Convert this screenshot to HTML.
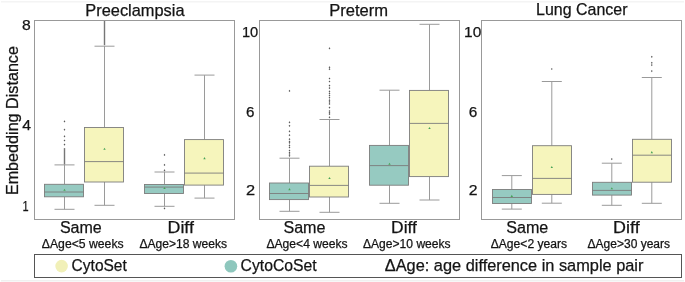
<!DOCTYPE html><html><head><meta charset="utf-8"><style>html,body{margin:0;padding:0;background:#fff;}body{width:685px;height:282px;overflow:hidden;}svg{display:block;will-change:transform;}text{font-family:"Liberation Sans",sans-serif;fill:#141414;}</style></head><body>
<svg width="685" height="282" viewBox="0 0 685 282">
<rect x="0" y="0" width="685" height="282" fill="#fff"/>
<rect x="1" y="1" width="683" height="1.5" fill="#f4f4f4"/>
<rect x="1" y="280" width="683" height="1.5" fill="#f0f0f0"/>
<line x1="64.5" y1="164.9" x2="64.5" y2="184.3" stroke="#9a9a9a" stroke-width="1"/>
<line x1="64.5" y1="196.8" x2="64.5" y2="209.3" stroke="#9a9a9a" stroke-width="1"/>
<line x1="54.5" y1="164.9" x2="74.5" y2="164.9" stroke="#9a9a9a" stroke-width="1"/>
<line x1="54.5" y1="209.3" x2="74.5" y2="209.3" stroke="#9a9a9a" stroke-width="1"/>
<rect x="44.5" y="184.3" width="39" height="12.5" fill="#96cac1" stroke="#7c7c7c" stroke-width="0.9"/>
<line x1="44.5" y1="192" x2="83.5" y2="192" stroke="#7c7c7c" stroke-width="0.9"/>
<path d="M63.3 190.8L64.5 188.7L65.7 190.8Z" fill="#46a356"/>
<rect x="63.8" y="148.1" width="1.4" height="16.4" fill="#767676"/>
<path d="M64.5 120.3L65.35 121.4L64.5 122.5L63.65 121.4Z" fill="#5a5a5a"/>
<path d="M64.5 128.6L65.35 129.7L64.5 130.8L63.65 129.7Z" fill="#5a5a5a"/>
<path d="M64.5 135.2L65.35 136.3L64.5 137.4L63.65 136.3Z" fill="#5a5a5a"/>
<path d="M64.5 139.4L65.35 140.5L64.5 141.6L63.65 140.5Z" fill="#5a5a5a"/>
<path d="M64.5 143.5L65.35 144.6L64.5 145.7L63.65 144.6Z" fill="#5a5a5a"/>
<line x1="104.5" y1="46.2" x2="104.5" y2="127.5" stroke="#9a9a9a" stroke-width="1"/>
<line x1="104.5" y1="182" x2="104.5" y2="205.3" stroke="#9a9a9a" stroke-width="1"/>
<line x1="94.5" y1="46.2" x2="114.5" y2="46.2" stroke="#9a9a9a" stroke-width="1"/>
<line x1="94.5" y1="205.3" x2="114.5" y2="205.3" stroke="#9a9a9a" stroke-width="1"/>
<rect x="84.5" y="127.5" width="39" height="54.5" fill="#f6f5bc" stroke="#7c7c7c" stroke-width="0.9"/>
<line x1="84.5" y1="161.6" x2="123.5" y2="161.6" stroke="#7c7c7c" stroke-width="0.9"/>
<path d="M103.3 149.8L104.5 147.7L105.7 149.8Z" fill="#46a356"/>
<rect x="103.8" y="21" width="1.4" height="24.2" fill="#767676"/>
<line x1="164.5" y1="172" x2="164.5" y2="184.5" stroke="#9a9a9a" stroke-width="1"/>
<line x1="164.5" y1="193.5" x2="164.5" y2="206.3" stroke="#9a9a9a" stroke-width="1"/>
<line x1="154.5" y1="172" x2="174.5" y2="172" stroke="#9a9a9a" stroke-width="1"/>
<line x1="154.5" y1="206.3" x2="174.5" y2="206.3" stroke="#9a9a9a" stroke-width="1"/>
<rect x="144.5" y="184.5" width="39" height="9" fill="#96cac1" stroke="#7c7c7c" stroke-width="0.9"/>
<line x1="144.5" y1="187.1" x2="183.5" y2="187.1" stroke="#7c7c7c" stroke-width="0.9"/>
<path d="M163.3 189.1L164.5 187L165.7 189.1Z" fill="#46a356"/>
<path d="M164.5 153.8L165.35 154.9L164.5 156L163.65 154.9Z" fill="#5a5a5a"/>
<path d="M164.5 163.8L165.35 164.9L164.5 166L163.65 164.9Z" fill="#5a5a5a"/>
<path d="M164.5 169.2L165.35 170.3L164.5 171.4L163.65 170.3Z" fill="#5a5a5a"/>
<path d="M164.5 207.3L165.35 208.4L164.5 209.5L163.65 208.4Z" fill="#5a5a5a"/>
<line x1="204.5" y1="75.1" x2="204.5" y2="139.6" stroke="#9a9a9a" stroke-width="1"/>
<line x1="204.5" y1="185.1" x2="204.5" y2="198.1" stroke="#9a9a9a" stroke-width="1"/>
<line x1="194.5" y1="75.1" x2="214.5" y2="75.1" stroke="#9a9a9a" stroke-width="1"/>
<line x1="194.5" y1="198.1" x2="214.5" y2="198.1" stroke="#9a9a9a" stroke-width="1"/>
<rect x="184.5" y="139.6" width="39" height="45.5" fill="#f6f5bc" stroke="#7c7c7c" stroke-width="0.9"/>
<line x1="184.5" y1="173.1" x2="223.5" y2="173.1" stroke="#7c7c7c" stroke-width="0.9"/>
<path d="M203.3 159.2L204.5 157.1L205.7 159.2Z" fill="#46a356"/>
<rect x="34.5" y="20.5" width="200" height="199" fill="none" stroke="#999" stroke-width="1"/>
<line x1="289.5" y1="158.2" x2="289.5" y2="183" stroke="#9a9a9a" stroke-width="1"/>
<line x1="289.5" y1="199.6" x2="289.5" y2="211.3" stroke="#9a9a9a" stroke-width="1"/>
<line x1="279.5" y1="158.2" x2="299.5" y2="158.2" stroke="#9a9a9a" stroke-width="1"/>
<line x1="279.5" y1="211.3" x2="299.5" y2="211.3" stroke="#9a9a9a" stroke-width="1"/>
<rect x="269.5" y="183" width="39" height="16.6" fill="#96cac1" stroke="#7c7c7c" stroke-width="0.9"/>
<line x1="269.5" y1="193.5" x2="308.5" y2="193.5" stroke="#7c7c7c" stroke-width="0.9"/>
<path d="M288.3 190.2L289.5 188.1L290.7 190.2Z" fill="#46a356"/>
<path d="M289.5 89.8L290.35 90.9L289.5 92L288.65 90.9Z" fill="#5a5a5a"/>
<path d="M289.5 121.2L290.35 122.3L289.5 123.4L288.65 122.3Z" fill="#5a5a5a"/>
<path d="M289.5 124.7L290.35 125.8L289.5 126.9L288.65 125.8Z" fill="#5a5a5a"/>
<path d="M289.5 130.2L290.35 131.3L289.5 132.4L288.65 131.3Z" fill="#5a5a5a"/>
<path d="M289.5 134.1L290.35 135.2L289.5 136.3L288.65 135.2Z" fill="#5a5a5a"/>
<path d="M289.5 138.1L290.35 139.2L289.5 140.3L288.65 139.2Z" fill="#5a5a5a"/>
<path d="M289.5 140.4L290.35 141.5L289.5 142.6L288.65 141.5Z" fill="#5a5a5a"/>
<path d="M289.5 141.7L290.35 142.8L289.5 143.9L288.65 142.8Z" fill="#5a5a5a"/>
<path d="M289.5 144.3L290.35 145.4L289.5 146.5L288.65 145.4Z" fill="#5a5a5a"/>
<path d="M289.5 146.3L290.35 147.4L289.5 148.5L288.65 147.4Z" fill="#5a5a5a"/>
<path d="M289.5 149.4L290.35 150.5L289.5 151.6L288.65 150.5Z" fill="#5a5a5a"/>
<path d="M289.5 151.4L290.35 152.5L289.5 153.6L288.65 152.5Z" fill="#5a5a5a"/>
<path d="M289.5 152.9L290.35 154L289.5 155.1L288.65 154Z" fill="#5a5a5a"/>
<path d="M289.5 154.7L290.35 155.8L289.5 156.9L288.65 155.8Z" fill="#5a5a5a"/>
<line x1="329.5" y1="119.5" x2="329.5" y2="166.2" stroke="#9a9a9a" stroke-width="1"/>
<line x1="329.5" y1="197" x2="329.5" y2="212.3" stroke="#9a9a9a" stroke-width="1"/>
<line x1="319.5" y1="119.5" x2="339.5" y2="119.5" stroke="#9a9a9a" stroke-width="1"/>
<line x1="319.5" y1="212.3" x2="339.5" y2="212.3" stroke="#9a9a9a" stroke-width="1"/>
<rect x="309.5" y="166.2" width="39" height="30.8" fill="#f6f5bc" stroke="#7c7c7c" stroke-width="0.9"/>
<line x1="309.5" y1="185.4" x2="348.5" y2="185.4" stroke="#7c7c7c" stroke-width="0.9"/>
<path d="M328.3 179L329.5 176.9L330.7 179Z" fill="#46a356"/>
<path d="M329.5 47.2L330.35 48.3L329.5 49.4L328.65 48.3Z" fill="#5a5a5a"/>
<path d="M329.5 66.2L330.35 67.3L329.5 68.4L328.65 67.3Z" fill="#5a5a5a"/>
<path d="M329.5 68.1L330.35 69.2L329.5 70.3L328.65 69.2Z" fill="#5a5a5a"/>
<path d="M329.5 77.4L330.35 78.5L329.5 79.6L328.65 78.5Z" fill="#5a5a5a"/>
<path d="M329.5 80.4L330.35 81.5L329.5 82.6L328.65 81.5Z" fill="#5a5a5a"/>
<path d="M329.5 84.5L330.35 85.6L329.5 86.7L328.65 85.6Z" fill="#5a5a5a"/>
<path d="M329.5 87L330.35 88.1L329.5 89.2L328.65 88.1Z" fill="#5a5a5a"/>
<path d="M329.5 90.3L330.35 91.4L329.5 92.5L328.65 91.4Z" fill="#5a5a5a"/>
<path d="M329.5 92.3L330.35 93.4L329.5 94.5L328.65 93.4Z" fill="#5a5a5a"/>
<path d="M329.5 94.4L330.35 95.5L329.5 96.6L328.65 95.5Z" fill="#5a5a5a"/>
<path d="M329.5 96.6L330.35 97.7L329.5 98.8L328.65 97.7Z" fill="#5a5a5a"/>
<path d="M329.5 99.1L330.35 100.2L329.5 101.3L328.65 100.2Z" fill="#5a5a5a"/>
<path d="M329.5 100.8L330.35 101.9L329.5 103L328.65 101.9Z" fill="#5a5a5a"/>
<path d="M329.5 102.8L330.35 103.9L329.5 105L328.65 103.9Z" fill="#5a5a5a"/>
<path d="M329.5 106.5L330.35 107.6L329.5 108.7L328.65 107.6Z" fill="#5a5a5a"/>
<path d="M329.5 109.9L330.35 111L329.5 112.1L328.65 111Z" fill="#5a5a5a"/>
<path d="M329.5 111.6L330.35 112.7L329.5 113.8L328.65 112.7Z" fill="#5a5a5a"/>
<path d="M329.5 113L330.35 114.1L329.5 115.2L328.65 114.1Z" fill="#5a5a5a"/>
<path d="M329.5 116.2L330.35 117.3L329.5 118.4L328.65 117.3Z" fill="#5a5a5a"/>
<line x1="389.5" y1="90.2" x2="389.5" y2="145.4" stroke="#9a9a9a" stroke-width="1"/>
<line x1="389.5" y1="185.2" x2="389.5" y2="203.3" stroke="#9a9a9a" stroke-width="1"/>
<line x1="379.5" y1="90.2" x2="399.5" y2="90.2" stroke="#9a9a9a" stroke-width="1"/>
<line x1="379.5" y1="203.3" x2="399.5" y2="203.3" stroke="#9a9a9a" stroke-width="1"/>
<rect x="369.5" y="145.4" width="39" height="39.8" fill="#96cac1" stroke="#7c7c7c" stroke-width="0.9"/>
<line x1="369.5" y1="165.6" x2="408.5" y2="165.6" stroke="#7c7c7c" stroke-width="0.9"/>
<path d="M388.3 164.8L389.5 162.7L390.7 164.8Z" fill="#46a356"/>
<line x1="429.5" y1="24.3" x2="429.5" y2="90.4" stroke="#9a9a9a" stroke-width="1"/>
<line x1="429.5" y1="176.6" x2="429.5" y2="200" stroke="#9a9a9a" stroke-width="1"/>
<line x1="419.5" y1="24.3" x2="439.5" y2="24.3" stroke="#9a9a9a" stroke-width="1"/>
<line x1="419.5" y1="200" x2="439.5" y2="200" stroke="#9a9a9a" stroke-width="1"/>
<rect x="409.5" y="90.4" width="39" height="86.2" fill="#f6f5bc" stroke="#7c7c7c" stroke-width="0.9"/>
<line x1="409.5" y1="123.4" x2="448.5" y2="123.4" stroke="#7c7c7c" stroke-width="0.9"/>
<path d="M428.3 129.1L429.5 127L430.7 129.1Z" fill="#46a356"/>
<rect x="259.5" y="20.5" width="200" height="199" fill="none" stroke="#999" stroke-width="1"/>
<line x1="511.8" y1="175.6" x2="511.8" y2="189.5" stroke="#9a9a9a" stroke-width="1"/>
<line x1="511.8" y1="203.5" x2="511.8" y2="209.1" stroke="#9a9a9a" stroke-width="1"/>
<line x1="501.8" y1="175.6" x2="521.8" y2="175.6" stroke="#9a9a9a" stroke-width="1"/>
<line x1="501.8" y1="209.1" x2="521.8" y2="209.1" stroke="#9a9a9a" stroke-width="1"/>
<rect x="492.5" y="189.5" width="39" height="14" fill="#96cac1" stroke="#7c7c7c" stroke-width="0.9"/>
<line x1="492.5" y1="197.5" x2="531.5" y2="197.5" stroke="#7c7c7c" stroke-width="0.9"/>
<path d="M510.6 196.9L511.8 194.8L513 196.9Z" fill="#46a356"/>
<line x1="551.8" y1="81.5" x2="551.8" y2="145.7" stroke="#9a9a9a" stroke-width="1"/>
<line x1="551.8" y1="194.4" x2="551.8" y2="203.2" stroke="#9a9a9a" stroke-width="1"/>
<line x1="541.8" y1="81.5" x2="561.8" y2="81.5" stroke="#9a9a9a" stroke-width="1"/>
<line x1="541.8" y1="203.2" x2="561.8" y2="203.2" stroke="#9a9a9a" stroke-width="1"/>
<rect x="532.5" y="145.7" width="39" height="48.7" fill="#f6f5bc" stroke="#7c7c7c" stroke-width="0.9"/>
<line x1="532.5" y1="178.4" x2="571.5" y2="178.4" stroke="#7c7c7c" stroke-width="0.9"/>
<path d="M550.6 168L551.8 165.9L553 168Z" fill="#46a356"/>
<path d="M551.8 67.9L552.65 69L551.8 70.1L550.95 69Z" fill="#5a5a5a"/>
<line x1="611.8" y1="163.2" x2="611.8" y2="182.3" stroke="#9a9a9a" stroke-width="1"/>
<line x1="611.8" y1="195.1" x2="611.8" y2="205.3" stroke="#9a9a9a" stroke-width="1"/>
<line x1="601.8" y1="163.2" x2="621.8" y2="163.2" stroke="#9a9a9a" stroke-width="1"/>
<line x1="601.8" y1="205.3" x2="621.8" y2="205.3" stroke="#9a9a9a" stroke-width="1"/>
<rect x="592.5" y="182.3" width="39" height="12.8" fill="#96cac1" stroke="#7c7c7c" stroke-width="0.9"/>
<line x1="592.5" y1="190.4" x2="631.5" y2="190.4" stroke="#7c7c7c" stroke-width="0.9"/>
<path d="M610.6 189.3L611.8 187.2L613 189.3Z" fill="#46a356"/>
<path d="M611.8 158L612.65 159.1L611.8 160.2L610.95 159.1Z" fill="#5a5a5a"/>
<line x1="651.8" y1="77.5" x2="651.8" y2="139.3" stroke="#9a9a9a" stroke-width="1"/>
<line x1="651.8" y1="182.2" x2="651.8" y2="203.3" stroke="#9a9a9a" stroke-width="1"/>
<line x1="641.8" y1="77.5" x2="661.8" y2="77.5" stroke="#9a9a9a" stroke-width="1"/>
<line x1="641.8" y1="203.3" x2="661.8" y2="203.3" stroke="#9a9a9a" stroke-width="1"/>
<rect x="632.5" y="139.3" width="39" height="42.9" fill="#f6f5bc" stroke="#7c7c7c" stroke-width="0.9"/>
<line x1="632.5" y1="155.2" x2="671.5" y2="155.2" stroke="#7c7c7c" stroke-width="0.9"/>
<path d="M650.6 153.2L651.8 151.1L653 153.2Z" fill="#46a356"/>
<path d="M651.8 55.7L652.65 56.8L651.8 57.9L650.95 56.8Z" fill="#5a5a5a"/>
<path d="M651.8 61.7L652.65 62.8L651.8 63.9L650.95 62.8Z" fill="#5a5a5a"/>
<path d="M651.8 64L652.65 65.1L651.8 66.2L650.95 65.1Z" fill="#5a5a5a"/>
<path d="M651.8 70L652.65 71.1L651.8 72.2L650.95 71.1Z" fill="#5a5a5a"/>
<rect x="481.5" y="20.5" width="200" height="199" fill="none" stroke="#999" stroke-width="1"/>
<rect x="34.5" y="254.5" width="647" height="23" fill="none" stroke="#555" stroke-width="1"/>
<circle cx="61.6" cy="266.1" r="6.3" fill="#f1f0b8"/>
<circle cx="230.9" cy="266.2" r="6.3" fill="#8ec7bd"/>
<text id="ti1" x="85.3" y="15.7" font-size="16.2" textLength="99.22" lengthAdjust="spacingAndGlyphs" stroke="#141414" stroke-width="0.25">Preeclampsia</text>
<text id="ti2" x="329.2" y="15.7" font-size="16.2" textLength="58.89" lengthAdjust="spacingAndGlyphs" stroke="#141414" stroke-width="0.25">Preterm</text>
<text id="ti3" x="536.1" y="15" font-size="16.2" textLength="91.44" lengthAdjust="spacingAndGlyphs" stroke="#141414" stroke-width="0.25">Lung Cancer</text>
<text id="k8" x="21.9" y="30.4" font-size="15" textLength="8.73" lengthAdjust="spacingAndGlyphs" stroke="#141414" stroke-width="0.25">8</text>
<text id="k4" x="22.2" y="129.8" font-size="15" textLength="8.78" lengthAdjust="spacingAndGlyphs" stroke="#141414" stroke-width="0.25">4</text>
<text id="k1" x="22.4" y="210.7" font-size="15" textLength="6.11" lengthAdjust="spacingAndGlyphs" stroke="#141414" stroke-width="0.25">1</text>
<text id="k10b" x="241.9" y="37" font-size="15" textLength="16.31" lengthAdjust="spacingAndGlyphs" stroke="#141414" stroke-width="0.25">10</text>
<text id="k6b" x="245.9" y="117.3" font-size="15" textLength="8.44" lengthAdjust="spacingAndGlyphs" stroke="#141414" stroke-width="0.25">6</text>
<text id="k2b" x="245.9" y="195.1" font-size="15" textLength="9.12" lengthAdjust="spacingAndGlyphs" stroke="#141414" stroke-width="0.25">2</text>
<text id="k10c" x="464.1" y="37.4" font-size="15" textLength="17.22" lengthAdjust="spacingAndGlyphs" stroke="#141414" stroke-width="0.25">10</text>
<text id="k6c" x="468.8" y="117.3" font-size="15" textLength="8.55" lengthAdjust="spacingAndGlyphs" stroke="#141414" stroke-width="0.25">6</text>
<text id="k2c" x="468.8" y="195.1" font-size="15" textLength="8.78" lengthAdjust="spacingAndGlyphs" stroke="#141414" stroke-width="0.25">2</text>
<text id="s1" x="59.9" y="233" font-size="16" textLength="41.86" lengthAdjust="spacingAndGlyphs" stroke="#141414" stroke-width="0.25">Same</text>
<text id="a1" x="41.8" y="247.5" font-size="12" textLength="81.83" lengthAdjust="spacingAndGlyphs" stroke="#141414" stroke-width="0.25">ΔAge&lt;5 weeks</text>
<text id="d1" x="167.5" y="233" font-size="16" textLength="26.44" lengthAdjust="spacingAndGlyphs" stroke="#141414" stroke-width="0.25">Diff</text>
<text id="b1" x="139.4" y="247.6" font-size="12" textLength="87.61" lengthAdjust="spacingAndGlyphs" stroke="#141414" stroke-width="0.25">ΔAge&gt;18 weeks</text>
<text id="s2" x="283.4" y="233" font-size="16" textLength="42.05" lengthAdjust="spacingAndGlyphs" stroke="#141414" stroke-width="0.25">Same</text>
<text id="a2" x="266.4" y="247.5" font-size="12" textLength="81.21" lengthAdjust="spacingAndGlyphs" stroke="#141414" stroke-width="0.25">ΔAge&lt;4 weeks</text>
<text id="d2" x="391.1" y="233" font-size="16" textLength="25.86" lengthAdjust="spacingAndGlyphs" stroke="#141414" stroke-width="0.25">Diff</text>
<text id="b2" x="363" y="247.6" font-size="12" textLength="87.61" lengthAdjust="spacingAndGlyphs" stroke="#141414" stroke-width="0.25">ΔAge&gt;10 weeks</text>
<text id="s3" x="506.2" y="233" font-size="16" textLength="42.05" lengthAdjust="spacingAndGlyphs" stroke="#141414" stroke-width="0.25">Same</text>
<text id="a3" x="490.7" y="247.5" font-size="12" textLength="76.43" lengthAdjust="spacingAndGlyphs" stroke="#141414" stroke-width="0.25">ΔAge&lt;2 years</text>
<text id="d3" x="613.1" y="233" font-size="16" textLength="26.53" lengthAdjust="spacingAndGlyphs" stroke="#141414" stroke-width="0.25">Diff</text>
<text id="b3" x="587.6" y="247.6" font-size="12" textLength="82.41" lengthAdjust="spacingAndGlyphs" stroke="#141414" stroke-width="0.25">ΔAge&gt;30 years</text>
<text id="l1" x="71.6" y="271" font-size="16.3" textLength="55.23" lengthAdjust="spacingAndGlyphs" stroke="#141414" stroke-width="0.25">CytoSet</text>
<text id="l2" x="240.5" y="271" font-size="16.3" textLength="76.22" lengthAdjust="spacingAndGlyphs" stroke="#141414" stroke-width="0.25">CytoCoSet</text>
<text id="l3" x="384.8" y="271" font-size="16.3" textLength="258.6" lengthAdjust="spacingAndGlyphs" stroke="#141414" stroke-width="0.25">ΔAge: age difference in sample pair</text>
<text id="yl" transform="translate(17.8,195.1) rotate(-90)" font-size="16.5" textLength="149.03" lengthAdjust="spacingAndGlyphs" stroke="#141414" stroke-width="0.25">Embedding Distance</text>
</svg></body></html>
